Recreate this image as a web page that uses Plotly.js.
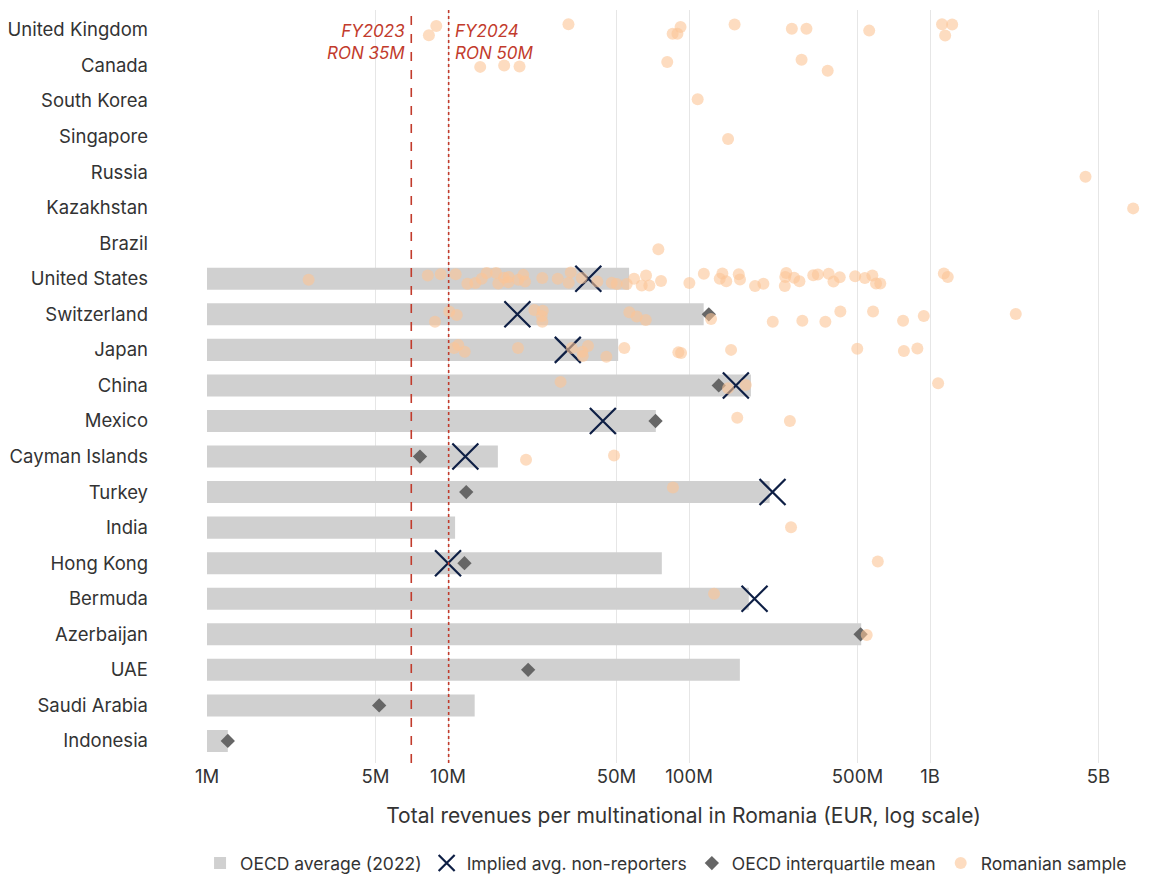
<!DOCTYPE html>
<html>
<head>
<meta charset="utf-8">
<script src="https://cdn.plot.ly/plotly-3.0.1.min.js"></script>
<style>
  html, body { margin: 0; padding: 0; background: #fff; }
  #chart { width: 1160px; height: 883px; }
</style>
</head>
<body>
<div id="chart"></div>
<script>
// ---------- DATA ----------
const countries = ["United Kingdom","Canada","South Korea","Singapore","Russia","Kazakhstan","Brazil",
  "United States","Switzerland","Japan","China","Mexico","Cayman Islands","Turkey","India",
  "Hong Kong","Bermuda","Azerbaijan","UAE","Saudi Arabia","Indonesia"];

// OECD average (2022), EUR
const oecdAverage = [null,null,null,null,null,null,null,
  56.4e6,115e6,50.8e6,180.6e6,72.8e6,16.1e6,216e6,10.7e6,
  77.1e6,177e6,518e6,162.5e6,12.9e6,1.22e6];

// Implied avg. non-reporters, EUR
const impliedCountries = ["United States","Switzerland","Japan","China","Mexico","Cayman Islands","Turkey","Hong Kong","Bermuda"];
const impliedValues = [38.2e6,19.4e6,31.4e6,156.4e6,43.9e6,11.8e6,222e6,10.0e6,187e6];

// OECD interquartile mean, EUR
const iqmCountries = ["Switzerland","China","Mexico","Cayman Islands","Turkey","Hong Kong","Azerbaijan","UAE","Saudi Arabia","Indonesia"];
const iqmValues = [120.8e6,132.8e6,72.6e6,7.65e6,11.9e6,11.7e6,515e6,21.5e6,5.18e6,1.22e6];

// Romanian sample: groups (country, number of firms), values in EUR millions,
// vertical jitter (in row units)
const sampleGroups = ["United Kingdom","Canada","South Korea","Singapore","Russia","Kazakhstan","Brazil",
  "United States","Switzerland","Japan","China","Mexico","Cayman Islands","Turkey","India","Hong Kong","Bermuda","Azerbaijan"];
const sampleGroupSizes = [13,6,1,1,1,1,1,56,19,16,4,2,2,1,1,1,1,1];
const sampleValueM = [
  // United Kingdom
  8.33,8.94,31.6,92.2,85.5,89.5,154.5,267,307,559,1121,1235,1155,
  // Canada
  13.6,17.1,19.8,81.2,293,376,
  // South Korea, Singapore, Russia, Kazakhstan, Brazil
  108.6,145.2,4415,6962,74.6,
  // United States
  2.64,8.24,9.33,10.76,12.03,12.98,13.80,14.47,15.82,16.17,
  17.08,17.79,17.86,19.57,20.53,20.87,24.62,28.52,31.68,32.29,
  35.87,41.65,47.78,50.12,55.14,59.14,63.64,66.31,68.44,76.53,
  100.3,115.2,137.5,134.1,142.7,160.8,162.7,187.9,203.5,253.2,
  250.8,249.6,272.8,287.1,327.6,342.3,379.6,397.4,421.9,488.9,
  536.4,576.3,596.9,621.4,1141,1184,
  // Switzerland
  8.83,10.12,10.87,22.81,24.72,24.48,24.62,56.53,60.67,66.12,
  123.4,222.5,295.2,367.8,424.4,580.1,772.7,941.7,2268,
  // Japan
  10.59,11.03,11.73,19.52,32.61,36.08,36.22,38.09,45.39,53.89,90.29,92.65,149.4,498.8,778.6,885.9,
  // China
  29.3,145.2,171.9,1080,
  // Mexico
  158.5,262,
  // Cayman Islands
  21.07,48.84,
  // Turkey, India, Hong Kong, Bermuda, Azerbaijan
  85.73,264.9,607,127,546
];
const sampleJitter = [
  0.15,-0.11,-0.16,-0.08,0.11,0.11,-0.15,-0.03,-0.03,0.02,-0.16,-0.15,0.16,
  0.04,0.0,0.03,-0.10,-0.16,0.15,
  -0.05,0.07,0.13,0.02,0.17,
  0.03,-0.09,-0.13,-0.13,0.14,0.12,0.0,-0.16,-0.16,0.13,
  -0.03,0.10,-0.05,0.03,-0.11,0.08,-0.02,0.0,0.11,-0.18,
  -0.02,0.08,0.11,0.15,0.15,0.0,0.19,-0.09,0.19,0.06,
  0.12,-0.14,-0.15,0.0,0.07,-0.13,0.02,0.20,0.14,-0.16,
  -0.05,0.20,-0.03,0.07,-0.10,-0.12,-0.14,0.08,-0.04,-0.07,
  -0.02,-0.09,0.13,0.13,-0.15,-0.05,
  0.21,-0.08,0.02,-0.12,-0.10,0.05,0.21,-0.06,0.06,0.16,
  0.13,0.21,0.18,0.21,-0.08,-0.08,0.18,0.05,-0.01,
  -0.05,-0.14,0.05,-0.05,-0.05,0.05,0.17,-0.11,0.19,-0.05,0.07,0.09,0.0,-0.03,0.03,-0.04,
  -0.10,0.08,-0.01,-0.06,
  -0.09,0.0,
  0.09,-0.03,
  -0.13,-0.01,-0.05,-0.14,0.02
];

// Thresholds (EUR)
const thresholdLabels = ["FY2023<br>RON 35M", "FY2024<br>RON 50M"];
const thresholdValues = [7.04e6, 10.06e6];

// Axis ticks
const tickValues = [1e6,5e6,1e7,5e7,1e8,5e8,1e9,5e9];
const tickLabels = ["1M","5M","10M","50M","100M","500M","1B","5B"];

// ---------- BUILD ----------
const idx = c => countries.indexOf(c);
const rowIdx = countries.map((c, i) => i);

const sampleCountry = [];
sampleGroups.forEach((g, i) => { for (let k = 0; k < sampleGroupSizes[i]; k++) sampleCountry.push(g); });

const FONT = "Inter, 'Noto Sans', Roboto, sans-serif";
const RED = "#c23b2c";
const TXT = "#333333";

const traces = [
  {
    type: "bar", orientation: "h", name: "OECD average (2022)",
    x: oecdAverage, y: rowIdx, width: 0.62,
    marker: { color: "#d0d0d0" },
    hoverinfo: "skip"
  },
  {
    type: "scatter", mode: "markers", name: "Implied avg. non-reporters",
    x: impliedValues, y: impliedCountries.map(idx),
    marker: { symbol: "x-thin", size: 26, color: "#0e1f45", line: { width: 2.2, color: "#0e1f45" } }
  },
  {
    type: "scatter", mode: "markers", name: "OECD interquartile mean",
    x: iqmValues, y: iqmCountries.map(idx),
    marker: { symbol: "diamond", size: 11, color: "#666666" }
  },
  {
    type: "scatter", mode: "markers", name: "Romanian sample",
    x: sampleValueM.map(v => v * 1e6),
    y: sampleCountry.map((c, i) => idx(c) + sampleJitter[i]),
    marker: { symbol: "circle", size: 12, color: "rgba(252,196,150,0.6)" }
  }
];

const shapes = thresholdValues.map((v, i) => ({
  type: "line", xref: "x", yref: "paper", x0: v, x1: v, y0: 0, y1: 1,
  line: { color: RED, width: 1.6, dash: i === 0 ? "dash" : "dot" }
}));

const annotations = thresholdValues.map((v, i) => ({
  xref: "x", yref: "y", x: Math.log10(v), y: 0.33,
  text: thresholdLabels[i], showarrow: false,
  xanchor: i === 0 ? "right" : "left", yanchor: "middle",
  xshift: i === 0 ? -4 : 4,
  align: i === 0 ? "right" : "left",
  font: { family: FONT, size: 17, color: RED, style: "italic" }
}));

const layout = {
  width: 1160, height: 883,
  margin: { l: 207, r: 0, t: 10, b: 120, pad: 0 },
  paper_bgcolor: "#ffffff", plot_bgcolor: "#ffffff",
  font: { family: FONT, color: TXT, size: 18 },
  showlegend: true,
  xaxis: {
    type: "log", range: [6, 9.954],
    tickvals: tickValues, ticktext: tickLabels,
    showgrid: true, gridcolor: "#e6e6e6", gridwidth: 1,
    zeroline: false, showline: false, ticks: "",
    automargin: false,
    tickfont: { family: FONT, size: 18.5, color: TXT },
    title: { text: "Total revenues per multinational in Romania (EUR, log scale)", font: { family: FONT, size: 21, color: TXT }, standoff: 22 }
  },
  yaxis: {
    range: [20.62, -0.56],
    tickvals: rowIdx, ticktext: countries,
    showgrid: false, zeroline: false, showline: false, ticks: "",
    automargin: false,
    ticklabelstandoff: 58,
    tickfont: { family: FONT, size: 18.5, color: TXT }
  },
  legend: {
    orientation: "h", x: -0.0073, xanchor: "left",
    y: -0.157, yanchor: "bottom",
    font: { family: FONT, size: 17.5, color: TXT },
    itemsizing: "trace", traceorder: "normal"
  },
  shapes: shapes,
  annotations: annotations
};

Plotly.newPlot("chart", traces, layout, { displayModeBar: false, staticPlot: true });
</script>
</body>
</html>
